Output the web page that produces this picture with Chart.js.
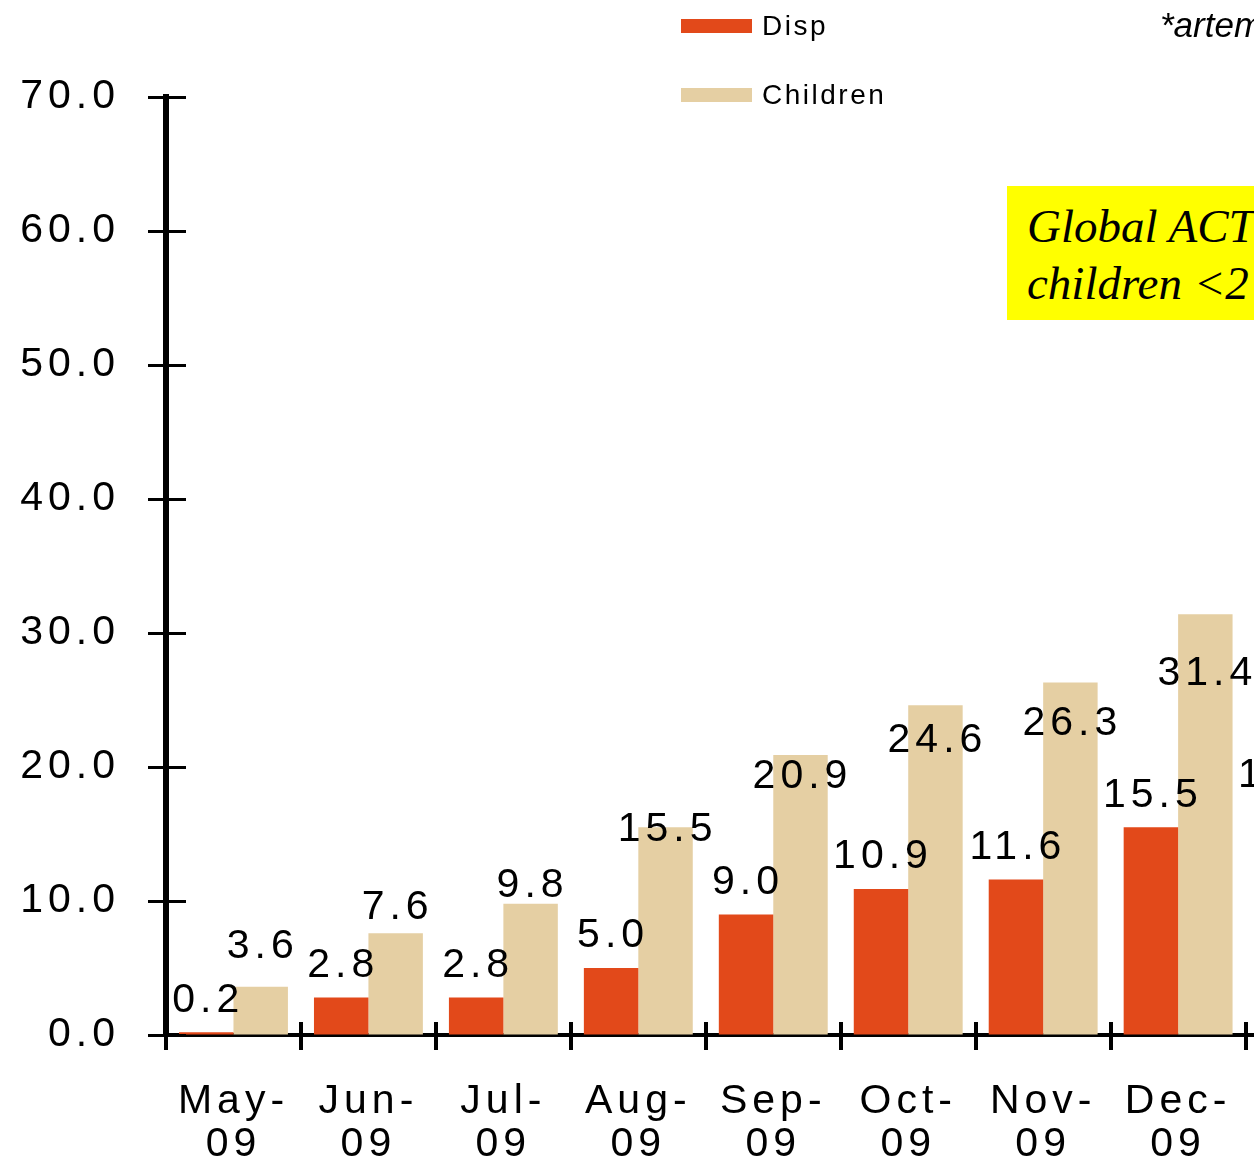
<!DOCTYPE html>
<html>
<head>
<meta charset="utf-8">
<script src="https://cdn.jsdelivr.net/npm/chart.js@4.4.1/dist/chart.umd.min.js"></script>
<style>
  html, body { margin: 0; padding: 0; background: #fff; overflow: hidden; }
  #wrap { position: relative; width: 1254px; height: 1161px; overflow: hidden; }
  #chart { position: absolute; left: 0; top: 0; }
  #legend { position: absolute; left: 681px; top: 0; font-family: "Liberation Sans", Arial, sans-serif; font-size: 28px; letter-spacing: 2.5px; color: #000; }
  #legend .item { position: absolute; left: 0; display: flex; align-items: center; white-space: nowrap; }
  #legend .sw { width: 71px; height: 14px; margin-right: 10px; }
  #note { position: absolute; left: 1160px; top: 5px; font-family: "Liberation Sans", Arial, sans-serif; font-style: italic; font-size: 35px; white-space: nowrap; }
  #box { position: absolute; left: 1007px; top: 186px; width: 400px; height: 134px; background: #ffff00; font-family: "Liberation Serif", "Times New Roman", serif; font-style: italic; font-size: 47px; line-height: 57px; white-space: nowrap; }
  #box div { padding-left: 20px; }
</style>
</head>
<body>
<div id="wrap">
  <canvas id="chart" width="1400" height="1161"></canvas>
  <div id="legend"></div>
  <div id="note">*artemether</div>
  <div id="box"><div style="margin-top:12px">Global ACT use in</div><div>children &lt;2 years</div></div>
</div>
<script>
// ---------- Data ----------
const months = [['May-', '09'], ['Jun-', '09'], ['Jul-', '09'], ['Aug-', '09'], ['Sep-', '09'],
                ['Oct-', '09'], ['Nov-', '09'], ['Dec-', '09'], ['Jan-', '10']];
const dispValues = [0.2, 2.8, 2.8, 5.0, 9.0, 10.9, 11.6, 15.5, 17.0];
const childrenValues = [3.6, 7.6, 9.8, 15.5, 20.9, 24.6, 26.3, 31.4, 36.0];
const yTicks = [0, 10, 20, 30, 40, 50, 60, 70];

const DISP_COLOR = '#e2491a';
const CHILD_COLOR = '#e5cfa3';
const FONT = '"Liberation Sans", Arial, sans-serif';

// ---------- Plugin: spacing, crossing ticks, value labels ----------
const decorations = {
  id: 'decorations',
  beforeDraw(chart) {
    chart.ctx.letterSpacing = '5px';
  },
  afterDraw(chart) {
    const ctx = chart.ctx;
    const x = chart.scales.x;
    const y = chart.scales.y;
    const axisX = chart.chartArea.left;
    const axisY = chart.chartArea.bottom;

    ctx.save();
    ctx.strokeStyle = '#000';

    // y ticks cross the axis
    ctx.lineWidth = 3;
    yTicks.forEach(v => {
      const py = Math.round(y.getPixelForValue(v)) + 0.5;
      ctx.beginPath();
      ctx.moveTo(axisX - 18, py);
      ctx.lineTo(axisX + 20, py);
      ctx.stroke();
    });

    // x ticks at category boundaries
    ctx.lineWidth = 4;
    for (let i = 0; i <= months.length; i++) {
      const px = Math.round(x.getPixelForValue(i - 0.5));
      ctx.beginPath();
      ctx.moveTo(px, axisY - 13);
      ctx.lineTo(px, axisY + 15);
      ctx.stroke();
    }

    // value labels
    ctx.fillStyle = '#000';
    ctx.font = '41px ' + FONT;
    ctx.textAlign = 'center';
    ctx.textBaseline = 'middle';
    chart.getDatasetMeta(0).data.forEach((bar, i) => {
      ctx.fillText(dispValues[i].toFixed(1), bar.x + 2, y.getPixelForValue(dispValues[i]) - 32);
    });
    // children labels sit lower relative to the bar as values grow (as in the original)
    chart.getDatasetMeta(1).data.forEach((bar, i) => {
      ctx.fillText(childrenValues[i].toFixed(1), bar.x + 2, y.getPixelForValue(3.8 + 0.732 * childrenValues[i]) - 2);
    });
    ctx.restore();
  }
};

// ---------- Chart ----------
const chart = new Chart(document.getElementById('chart'), {
  type: 'bar',
  data: {
    labels: months,
    datasets: [
      { label: 'Disp', data: dispValues, backgroundColor: DISP_COLOR },
      { label: 'Children', data: childrenValues, backgroundColor: CHILD_COLOR }
    ]
  },
  options: {
    responsive: false,
    animation: false,
    layout: { padding: { top: 97, right: 19, left: 0, bottom: 0 } },
    datasets: { bar: { categoryPercentage: 0.807, barPercentage: 1.0 } },
    plugins: { legend: { display: false }, tooltip: { enabled: false } },
    scales: {
      x: {
        grid: { display: true, drawOnChartArea: false, drawTicks: false, color: 'rgba(0,0,0,0)' },
        border: { display: true, color: '#000', width: 4 },
        ticks: {
          color: '#000', padding: 46, maxRotation: 0, autoSkip: false,
          font: { family: FONT, size: 41, lineHeight: 1.03 }
        },
        afterFit: s => { s.height = 126; }
      },
      y: {
        min: 0, max: 70,
        grid: { display: true, drawOnChartArea: false, drawTicks: false, color: 'rgba(0,0,0,0)' },
        border: { display: true, color: '#000', width: 6 },
        ticks: {
          stepSize: 10, color: '#000', padding: 46,
          font: { family: FONT, size: 41 },
          callback: v => Number(v).toFixed(1)
        },
        afterFit: s => { s.width = 166; }
      }
    }
  },
  plugins: [decorations]
});

// ---------- HTML legend (stacked) ----------
const legendTops = [10, 79];
const legend = document.getElementById('legend');
chart.data.datasets.forEach((ds, i) => {
  const item = document.createElement('div');
  item.className = 'item';
  item.style.top = legendTops[i] + 'px';
  item.innerHTML = `<span class="sw" style="background:${ds.backgroundColor}"></span><span>${ds.label}</span>`;
  legend.appendChild(item);
});
</script>
</body>
</html>
